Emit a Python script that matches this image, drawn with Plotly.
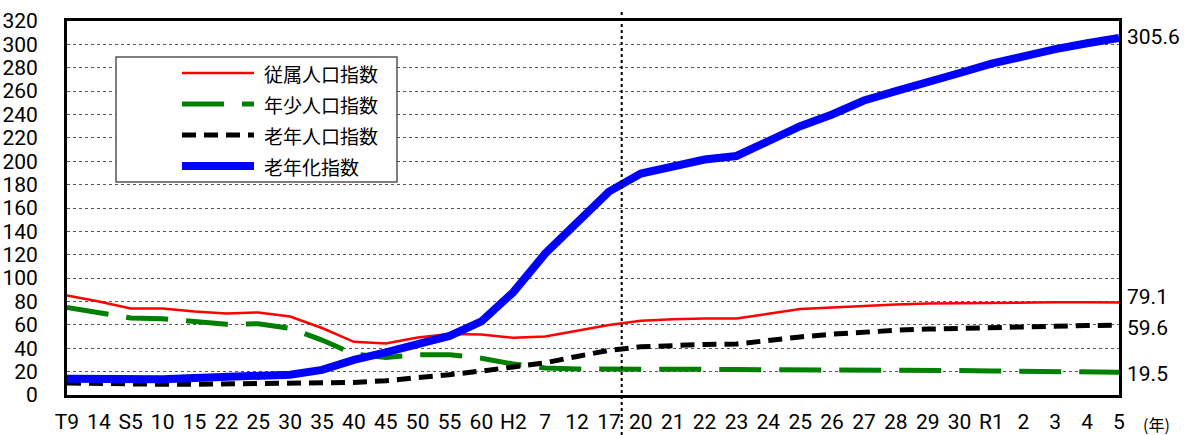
import plotly.graph_objects as go

# ---- data ----
categories = ["T9", "14", "S5", "10", "15", "22", "25", "30", "35", "40", "45", "50", "55", "60",
              "H2", "7", "12", "17", "20", "21", "22", "23", "24", "25", "26", "27", "28", "29",
              "30", "R1", "2", "3", "4", "5"]
dependency_index = [85.1, 80.0, 74.0, 74.0, 71.5, 69.8, 70.6, 67.2, 57.3, 45.5, 44.1, 49.2, 52.1, 51.8,
                    49.0, 50.1, 55.0, 59.8, 63.5, 64.9, 65.5, 65.5, 69.5, 73.5, 74.9, 76.3, 77.4, 78.3,
                    78.7, 78.9, 79.1, 79.3, 79.4, 79.1]
young_index = [74.8, 70.6, 65.9, 65.3, 62.6, 60.5, 61.0, 57.0, 47.0, 35.0, 32.0, 34.5, 34.5, 31.5,
               26.5, 23.2, 22.2, 21.9, 22.1, 22.1, 22.0, 21.8, 21.8, 21.7, 21.6, 21.5, 21.3, 21.1,
               20.9, 20.6, 20.4, 20.1, 19.8, 19.5]
old_index = [10.2, 9.6, 9.2, 9.2, 9.2, 9.4, 9.6, 10.0, 10.3, 10.8, 12.2, 14.5, 17.4, 20.5,
             23.5, 27.5, 33.0, 38.2, 41.2, 42.5, 43.3, 43.6, 46.8, 49.7, 52.0, 54.2, 55.4, 56.4,
             57.1, 58.1, 58.9, 59.3, 59.5, 59.6]
aging_index = [13.8, 13.5, 13.1, 13.4, 14.5, 15.1, 15.6, 17.4, 21.5, 30.0, 36.5, 43.0, 50.5, 63.0,
               88.0, 121.0, 148.5, 174.0, 189.5, 196.0, 201.5, 204.5, 218.2, 230.0, 240.0, 252.0,
               260.0, 268.5, 275.5, 283.5, 290.5, 296.0, 301.0, 305.6]
series_names = ["従属人口指数", "年少人口指数", "老年人口指数", "老年化指数"]
end_labels = ["79.1", "19.5", "59.6", "305.6"]
y_ticks = list(range(0, 321, 20))
x_unit_label = "(年)"

# ---- geometry ----
W, H = 1202, 435
ML, MR, MT, MB = 67, 83, 21, 40
PW, PH = W - ML - MR, H - MT - MB
FONT = "Noto Sans CJK JP, Noto Sans, sans-serif"
NUMFONT = "Liberation Sans Narrow, Roboto, Liberation Sans, sans-serif"


def px(xp):
    return (xp - ML) / PW


def py(yp):
    return (H - MB - yp) / PH


xs = list(range(len(categories)))
styles = [
    dict(color="#FF0000", width=2.5, dash="solid"),
    dict(color="#008000", width=5, dash="42px,18px"),
    dict(color="#000000", width=5, dash="14px,8px"),
    dict(color="#0000FF", width=8, dash="solid"),
]
values = [dependency_index, young_index, old_index, aging_index]

fig = go.Figure()
for name, vals, st in zip(series_names, values, styles):
    fig.add_trace(go.Scatter(x=xs, y=vals, mode="lines", name=name, line=st,
                             showlegend=False, hoverinfo="x+y+name"))

shapes = []
annotations = []

# vertical dotted divider between 17 and 20
xdiv = 17.4 / (len(categories) - 1)
shapes.append(dict(type="line", xref="paper", yref="paper", x0=xdiv, x1=xdiv,
                   y0=py(435), y1=py(9), line=dict(color="black", width=2, dash="dot"),
                   layer="above"))

# legend box
shapes.append(dict(type="rect", xref="paper", yref="paper", x0=px(116), x1=px(397),
                   y0=py(182), y1=py(57), line=dict(color="#555555", width=1.5),
                   fillcolor="white", layer="above"))
rows = [73, 104, 135, 166]
for name, st, ry in zip(series_names, styles, rows):
    shapes.append(dict(type="line", xref="paper", yref="paper", x0=px(182), x1=px(254),
                       y0=py(ry), y1=py(ry), line=st, layer="above"))
    annotations.append(dict(xref="paper", yref="paper", x=px(262), y=py(ry), text=name,
                            showarrow=False, xanchor="left", yanchor="middle",
                            font=dict(family=FONT, size=19, color="black")))

# end value labels
shifts = [6, -2, -3, 1]
for vals, lab, sh in zip(values, end_labels, shifts):
    annotations.append(dict(xref="paper", yref="y", x=1, y=vals[-1], text=lab, showarrow=False,
                            xanchor="left", yanchor="middle", xshift=6, yshift=sh,
                            font=dict(family=NUMFONT, size=21, color="black")))

annotations.append(dict(xref="paper", yref="paper", x=px(1156), y=py(424), text=x_unit_label,
                        showarrow=False, xanchor="center", yanchor="middle",
                        font=dict(family=FONT, size=16, color="black")))

fig.update_layout(
    width=W, height=H,
    margin=dict(l=ML, r=MR, t=MT, b=MB, autoexpand=False),
    paper_bgcolor="white", plot_bgcolor="white",
    font=dict(family=FONT, color="black"),
    shapes=shapes, annotations=annotations,
    xaxis=dict(range=[0, len(categories) - 1], tickmode="array", tickvals=xs, ticktext=categories,
               showgrid=False, zeroline=False, showline=True, linecolor="black", linewidth=3,
               mirror=True, ticks="", tickfont=dict(family=NUMFONT, size=21, color="black"),
               ticklabelstandoff=6, tickangle=0),
    yaxis=dict(range=[0, 320], tickmode="array", tickvals=y_ticks,
               showgrid=True, gridcolor="#555555", griddash="dot", gridwidth=1,
               zeroline=False, showline=True, linecolor="black", linewidth=3, mirror=True,
               ticks="", tickfont=dict(family=NUMFONT, size=21, color="black"),
               ticklabelstandoff=22),
)

fig.write_html("out.html", config={"displayModeBar": False},
               post_script="document.body.style.margin='0px';document.body.style.overflow='hidden';")
